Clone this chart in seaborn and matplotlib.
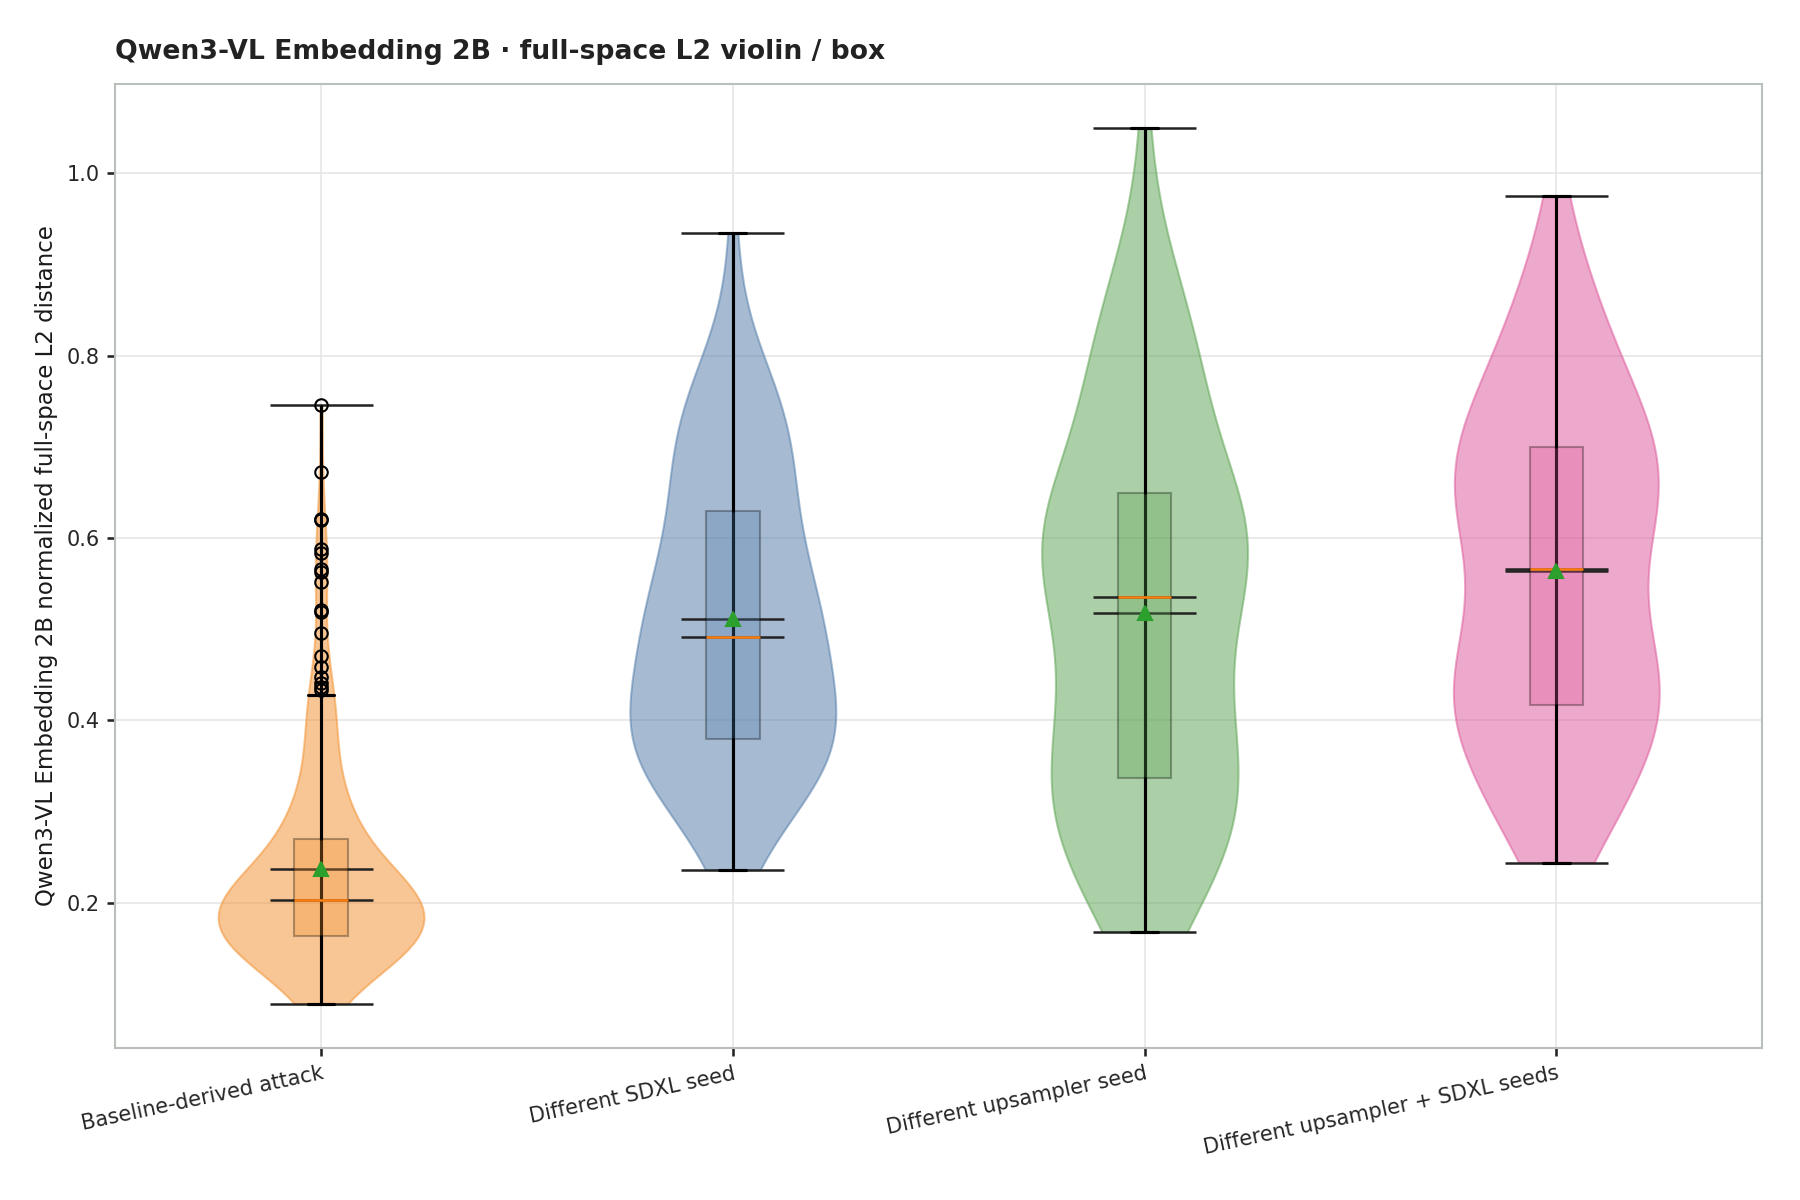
import numpy as np
import pandas as pd
import matplotlib
matplotlib.use("Agg")
import matplotlib.pyplot as plt
import seaborn as sns

# conditions compared (x axis)
conditions = ["Baseline-derived attack", "Different SDXL seed",
              "Different upsampler seed", "Different upsampler + SDXL seeds"]
colors = ["#f28e2b", "#4e79a7", "#59a14f", "#dd5599"]

# baseline-derived attack: distances read as value / count pairs, plus the outliers
baseline_values = [0.089, 0.095, 0.100, 0.105, 0.110, 0.115, 0.120, 0.125, 0.130, 0.135,
                   0.140, 0.145, 0.150, 0.155, 0.160,
                   0.165, 0.170, 0.175, 0.180, 0.185, 0.190, 0.195, 0.200,
                   0.205, 0.210, 0.215, 0.220, 0.225, 0.230, 0.235, 0.240, 0.245, 0.250,
                   0.255, 0.260, 0.265, 0.270,
                   0.275, 0.280, 0.285, 0.290, 0.295, 0.300, 0.305, 0.310, 0.315,
                   0.320, 0.325, 0.330, 0.335, 0.340, 0.345, 0.350, 0.355, 0.360, 0.365,
                   0.370, 0.375, 0.380, 0.385, 0.390, 0.395, 0.400, 0.405, 0.410, 0.415,
                   0.420, 0.428]
baseline_counts = [1, 1, 1, 2, 2, 3, 3, 4, 4, 5,
                   5, 6, 6, 7, 10,
                   5, 8, 8, 8, 8, 8, 8, 7,
                   7, 7, 6, 6, 5, 5, 4, 4, 4, 3,
                   3, 2, 2, 3,
                   2, 3, 2, 2, 2, 2, 2, 2, 2,
                   1, 1, 1, 1, 1, 1, 1, 1, 1, 1,
                   1, 1, 1, 1, 1, 1, 1, 1, 1, 1,
                   1, 1]
baseline_outliers = [0.433, 0.437, 0.441, 0.447, 0.458, 0.470, 0.496, 0.519, 0.521,
                     0.552, 0.563, 0.566, 0.583, 0.588, 0.620, 0.621, 0.672, 0.746]

sdxl_seed = [0.236, 0.252, 0.266, 0.278, 0.288, 0.297, 0.305, 0.312, 0.318, 0.324,
             0.330, 0.335, 0.340, 0.344, 0.348, 0.352, 0.356, 0.359, 0.362, 0.365,
             0.368, 0.371, 0.373, 0.375, 0.377,
             0.381, 0.385, 0.389, 0.393, 0.397, 0.401, 0.405, 0.409, 0.413, 0.418,
             0.422, 0.427, 0.432, 0.437, 0.442, 0.447, 0.452, 0.457, 0.462, 0.467,
             0.472, 0.477, 0.481, 0.485, 0.489,
             0.493, 0.497, 0.501, 0.506, 0.510, 0.515, 0.519, 0.524, 0.529, 0.534,
             0.539, 0.544, 0.549, 0.555, 0.560, 0.566, 0.572, 0.578, 0.584, 0.590,
             0.597, 0.604, 0.611, 0.619, 0.628,
             0.634, 0.641, 0.648, 0.655, 0.662, 0.669, 0.676, 0.683, 0.690, 0.697,
             0.704, 0.711, 0.718, 0.725, 0.732, 0.739, 0.746, 0.754, 0.762, 0.771,
             0.781, 0.795, 0.815, 0.850, 0.935]

upsampler_seed = [0.168, 0.178, 0.187, 0.196, 0.205, 0.213, 0.222, 0.230, 0.238, 0.246,
                  0.253, 0.260, 0.267, 0.274, 0.281, 0.287, 0.293, 0.299, 0.305, 0.310,
                  0.316, 0.321, 0.326, 0.330, 0.333,
                  0.338, 0.344, 0.350, 0.356, 0.363, 0.370, 0.377, 0.385, 0.393, 0.401,
                  0.409, 0.417, 0.425, 0.433, 0.441, 0.449, 0.457, 0.465, 0.473, 0.481,
                  0.489, 0.497, 0.505, 0.514, 0.525,
                  0.545, 0.549, 0.553, 0.557, 0.561, 0.565, 0.569, 0.573, 0.577, 0.581,
                  0.585, 0.589, 0.593, 0.597, 0.601, 0.605, 0.609, 0.613, 0.617, 0.621,
                  0.626, 0.631, 0.636, 0.641, 0.646,
                  0.660, 0.670, 0.680, 0.690, 0.700, 0.710, 0.720, 0.730, 0.740, 0.750,
                  0.760, 0.770, 0.780, 0.790, 0.800, 0.810, 0.820, 0.832, 0.845, 0.858,
                  0.872, 0.888, 0.908, 0.945, 1.050]

upsampler_sdxl = [0.244, 0.254, 0.264, 0.273, 0.282, 0.291, 0.300, 0.308, 0.316, 0.324,
                  0.332, 0.339, 0.346, 0.353, 0.360, 0.366, 0.372, 0.378, 0.384, 0.389,
                  0.394, 0.399, 0.404, 0.409, 0.414,
                  0.418, 0.422, 0.426, 0.430, 0.434, 0.438, 0.442, 0.446, 0.450, 0.455,
                  0.460, 0.465, 0.471, 0.477, 0.483, 0.490, 0.497, 0.504, 0.512, 0.520,
                  0.528, 0.537, 0.546, 0.555, 0.564,
                  0.568, 0.576, 0.584, 0.591, 0.598, 0.605, 0.611, 0.617, 0.623, 0.628,
                  0.633, 0.638, 0.643, 0.648, 0.652, 0.656, 0.660, 0.664, 0.668, 0.673,
                  0.678, 0.683, 0.688, 0.693, 0.699,
                  0.703, 0.708, 0.713, 0.719, 0.725, 0.731, 0.737, 0.744, 0.751, 0.758,
                  0.766, 0.774, 0.782, 0.791, 0.800, 0.810, 0.820, 0.831, 0.843, 0.856,
                  0.870, 0.886, 0.905, 0.930, 0.975]

baseline = np.concatenate([np.repeat(baseline_values, baseline_counts), baseline_outliers])
data = [baseline, np.array(sdxl_seed), np.array(upsampler_seed), np.array(upsampler_sdxl)]

sns.set_theme(style="whitegrid", rc={
    "axes.edgecolor": "#b9bfb9",
    "axes.linewidth": 1.0,
    "grid.color": "#e6e6e6",
    "grid.linewidth": 0.8,
    "xtick.bottom": True,
    "ytick.left": True,
    "xtick.major.size": 4,
    "ytick.major.size": 4,
    "xtick.color": "#262626",
    "ytick.color": "#262626",
    "axes.labelcolor": "#1a1a1a",
})
plt.rcParams["font.family"] = ["DejaVu Sans"]

fig, ax = plt.subplots(figsize=(12, 8), dpi=150)
positions = np.arange(1, len(data) + 1)

vp = ax.violinplot(data, positions=positions, widths=0.5,
                   showmeans=True, showmedians=True, showextrema=True)
for body, c in zip(vp["bodies"], colors):
    body.set_facecolor(c)
    body.set_edgecolor(c)
    body.set_alpha(0.5)
for key in ["cmins", "cmaxes", "cmeans", "cmedians"]:
    vp[key].set_color("#222222")
    vp[key].set_linewidth(1.2)
vp["cbars"].set_color("black")
vp["cbars"].set_linewidth(1.5)

bp = ax.boxplot(data, positions=positions, widths=0.13, patch_artist=True,
                showmeans=True, manage_ticks=False,
                medianprops=dict(color="#ff7f0e", linewidth=1.2),
                meanprops=dict(marker="^", markerfacecolor="#2ca02c",
                               markeredgecolor="#2ca02c", markersize=7),
                whiskerprops=dict(color="black", linewidth=1.2),
                capprops=dict(color="black", linewidth=1.5),
                flierprops=dict(marker="o", markerfacecolor="none",
                                markeredgecolor="black", markersize=6))
for box, c in zip(bp["boxes"], colors):
    box.set_facecolor(c)
    box.set_edgecolor("black")
    box.set_alpha(0.3)

ax.set_xticks(positions)
ax.set_xticklabels(conditions, rotation=12, ha="right", rotation_mode="anchor", fontsize=10)
ax.tick_params(axis="y", labelsize=10)
ax.set_xlim(0.5, 4.5)
ax.set_ylabel("Qwen3-VL Embedding 2B normalized full-space L2 distance", fontsize=11)
ax.set_title("Qwen3-VL Embedding 2B · full-space L2 violin / box",
             loc="left", fontsize=12.8, fontweight="bold", color="#222222", pad=12)

fig.subplots_adjust(left=0.064, right=0.979, top=0.930, bottom=0.127)
fig.savefig("out.png", dpi=150)
